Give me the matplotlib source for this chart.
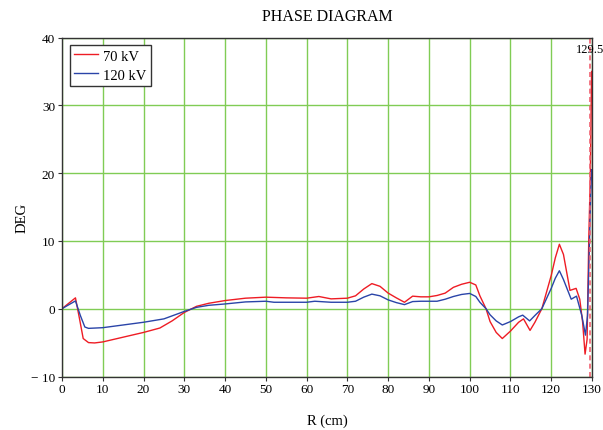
import matplotlib
matplotlib.use("Agg")
import matplotlib.pyplot as plt

# ---- data ----
r70 = [0, 3.3, 4.3, 5.2, 6.5, 8, 10, 15, 20, 24, 27, 30, 33, 36, 40, 45, 50, 55, 60, 63, 66, 70,
       72, 74, 76, 78, 80, 82, 84, 86, 88, 90, 92, 94, 96, 98, 100, 101.5, 102.5, 104, 105,
       106.5, 108, 110, 112, 113.2, 114.8, 116, 117.7, 120, 121, 122, 123, 124.6, 126.1, 127,
       127.7, 128.3, 128.8, 129.2, 129.6, 129.9]
deg70 = [0, 1.6, -1.5, -4.4, -5.0, -5.05, -4.9, -4.2, -3.5, -2.85, -1.8, -0.55, 0.35, 0.8, 1.2,
         1.55, 1.7, 1.6, 1.55, 1.8, 1.45, 1.55, 1.9, 2.9, 3.7, 3.3, 2.3, 1.6, 0.95, 1.85, 1.75,
         1.75, 1.95, 2.3, 3.15, 3.6, 3.9, 3.5, 1.9, 0, -1.9, -3.5, -4.4, -3.3, -2.0, -1.5, -3.2,
         -2.0, 0, 4.9, 7.5, 9.5, 8.0, 2.7, 3.0, 1.4, -2.0, -6.7, -4.5, 10, 20, 35]

r120 = [0, 3.3, 4.5, 5.6, 6.5, 10, 15, 20, 25, 30, 33, 36, 40, 45, 50, 52, 60, 62, 66, 70, 72,
        74, 76, 78, 80, 82, 84, 86, 88, 90, 92, 94, 96, 98, 100, 101.5, 102.5, 104, 105, 106.5,
        108, 110, 112, 113, 114.7, 116, 117.7, 120, 121, 122, 123, 124.9, 126.2, 127.5, 128.4,
        128.9, 129.3, 129.6, 129.9]
deg120 = [0, 1.15, -1.0, -2.7, -2.9, -2.8, -2.4, -2.0, -1.5, -0.4, 0.2, 0.5, 0.7, 1.0, 1.1,
          0.95, 0.95, 1.1, 0.95, 0.95, 1.1, 1.7, 2.15, 1.9, 1.3, 0.9, 0.6, 1.05, 1.1, 1.1, 1.1,
          1.4, 1.8, 2.1, 2.25, 1.8, 0.95, 0, -0.9, -1.8, -2.4, -1.9, -1.2, -0.95, -1.8, -1.0, 0,
          3.0, 4.5, 5.6, 4.3, 1.4, 1.85, -1.0, -3.9, -1.0, 8, 15, 20.5]

marker_r = 129.5
xticks = list(range(0, 131, 10))
yticks = [-10, 0, 10, 20, 30, 40]
ytick_labels = ["\u2212 10", "0", "10", "20", "30", "40"]

plt.rcParams['font.family'] = ['Liberation Serif', 'DejaVu Serif']

fig = plt.figure(figsize=(6.03, 4.31), dpi=100)
ax = fig.add_axes([62/603, 1-377.5/431, 530/603, 339/431])

ax.set_xlim(0, 130)
ax.set_ylim(-10, 40)
ax.set_xticks(xticks)
ax.set_yticks(yticks)
ax.set_yticklabels(ytick_labels)
ax.grid(True, color='#80cc55', linewidth=1.0)
ax.set_axisbelow(True)

ax.plot(r70, deg70, color='#ee1c24', lw=1.0, label='70 kV')
ax.plot(r120, deg120, color='#2a44a8', lw=1.0, label='120 kV')
ax.axvline(marker_r, color='#f06070', lw=1.2, ls=(0, (3, 2)))
ax.text(marker_r, 39.2, f"{marker_r}", ha='center', va='top', fontsize=9)

for s in ax.spines.values():
    s.set_color('#333333')
    s.set_linewidth(1.0)
ax.tick_params(labelsize=9.5, length=3, width=0.8, color='#333333', pad=2)

leg = ax.legend(loc='upper left', bbox_to_anchor=(0.015, 0.978), borderaxespad=0,
                fontsize=10.5, fancybox=False, framealpha=1, edgecolor='#333333',
                handlelength=1.6, borderpad=0.3, labelspacing=0.4, handletextpad=0.4)
leg.get_frame().set_linewidth(1.0)

fig.text(327/603, 1-17/431, 'PHASE DIAGRAM', ha='center', va='center', fontsize=11.5)
fig.text(327/603, 1-421/431, 'R (cm)', ha='center', va='center', fontsize=10.5)
fig.text(22/603, 1-218/431, 'DEG', ha='center', va='center', rotation=90, fontsize=10.5)

fig.savefig('out.png', dpi=100)
